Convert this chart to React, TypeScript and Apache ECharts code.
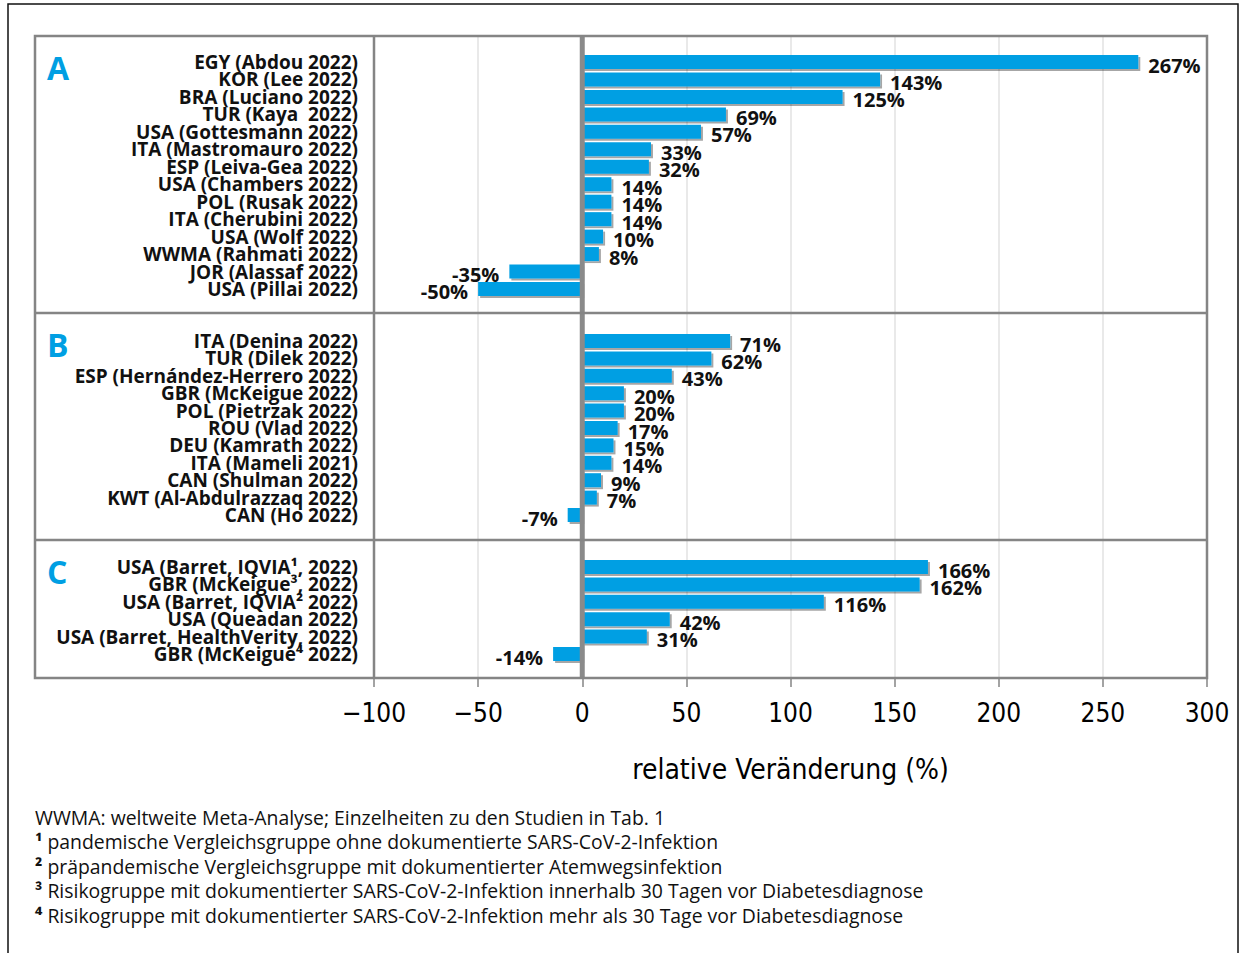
import React, { useEffect, useRef } from "react";
import * as echarts from "echarts";

const catsA = [
  "EGY (Abdou 2022)",
  "KOR (Lee 2022)",
  "BRA (Luciano 2022)",
  "TUR (Kaya  2022)",
  "USA (Gottesmann 2022)",
  "ITA (Mastromauro 2022)",
  "ESP (Leiva-Gea 2022)",
  "USA (Chambers 2022)",
  "POL (Rusak 2022)",
  "ITA (Cherubini 2022)",
  "USA (Wolf 2022)",
  "WWMA (Rahmati 2022)",
  "JOR (Alassaf 2022)",
  "USA (Pillai 2022)",
];
const valsA = [267, 143, 125, 69, 57, 33, 32, 14, 14, 14, 10, 8, -35, -50];

const catsB = [
  "ITA (Denina 2022)",
  "TUR (Dilek 2022)",
  "ESP (Hernández-Herrero 2022)",
  "GBR (McKeigue 2022)",
  "POL (Pietrzak 2022)",
  "ROU (Vlad 2022)",
  "DEU (Kamrath 2022)",
  "ITA (Mameli 2021)",
  "CAN (Shulman 2022)",
  "KWT (Al-Abdulrazzaq 2022)",
  "CAN (Ho 2022)",
];
const valsB = [71, 62, 43, 20, 20, 17, 15, 14, 9, 7, -7];

const catsC = [
  "USA (Barret, IQVIA¹, 2022)",
  "GBR (McKeigue³, 2022)",
  "USA (Barret, IQVIA² 2022)",
  "USA (Queadan 2022)",
  "USA (Barret, HealthVerity, 2022)",
  "GBR (McKeigue⁴ 2022)",
];
const valsC = [166, 162, 116, 42, 31, -14];

const panelLetters = ["A", "B", "C"];
const axisMin = -100;
const axisMax = 300;
const axisStep = 50;
const axisTitle = "relative Veränderung (%)";

const footnotes = [
  ["", "WWMA: weltweite Meta-Analyse; Einzelheiten zu den Studien in Tab. 1"],
  ["¹", " pandemische Vergleichsgruppe ohne dokumentierte SARS-CoV-2-Infektion"],
  ["²", " präpandemische Vergleichsgruppe mit dokumentierter Atemwegsinfektion"],
  ["³", " Risikogruppe mit dokumentierter SARS-CoV-2-Infektion innerhalb 30 Tagen vor Diabetesdiagnose"],
  ["⁴", " Risikogruppe mit dokumentierter SARS-CoV-2-Infektion mehr als 30 Tage vor Diabetesdiagnose"],
];

const FONT = '"Open Sans", "Noto Sans", sans-serif';
const COND = '"DejaVu Sans Condensed", "Liberation Sans Narrow", "Noto Sans", sans-serif';
const BLUE = "#009FE3";
const FRAME = "#858585";

const PLOT_LEFT = 374;
const PLOT_W = 833;
const panels = [
  { top: 53.3, height: 244.4, letterY: 67 },
  { top: 332.3, height: 191.4, letterY: 344 },
  { top: 558.3, height: 104.4, letterY: 571 },
];

export default function App() {
  const ref = useRef<HTMLDivElement>(null);
  useEffect(() => {
    document.body.style.margin = "0";
    if (!ref.current) return;
    const chart = echarts.init(ref.current, null, { renderer: "svg" });
    const cats = [catsA, catsB, catsC];
    const vals = [valsA, valsB, valsC];

    const grids: any[] = [
      { left: PLOT_LEFT, top: 36, width: PLOT_W, height: 642 },
      ...panels.map((p) => ({ left: PLOT_LEFT, top: p.top, width: PLOT_W, height: p.height })),
    ];
    const xAxes: any[] = [
      {
        gridIndex: 0,
        type: "value",
        min: axisMin,
        max: axisMax,
        interval: axisStep,
        splitLine: { show: true, lineStyle: { color: "#e2e2e2", width: 1.5 } },
        axisLine: { show: false },
        axisTick: { show: true, length: 9, lineStyle: { color: FRAME, width: 1.5 } },
        axisLabel: {
          formatter: (v: number) => (v < 0 ? "\u2212" + Math.abs(v) : String(v)),
          fontSize: 26,
          color: "#000",
          margin: 22,
          fontFamily: COND,
        },
        name: axisTitle,
        nameLocation: "middle",
        nameGap: 77,
        nameTextStyle: { fontSize: 28, color: "#000", fontFamily: COND },
      },
      ...panels.map((_, i) => ({
        gridIndex: i + 1,
        type: "value",
        min: axisMin,
        max: axisMax,
        show: false,
      })),
    ];
    const yAxes: any[] = [
      { gridIndex: 0, type: "value", min: 0, max: 1, show: false },
      ...panels.map((_, i) => ({
        gridIndex: i + 1,
        type: "category",
        data: cats[i],
        inverse: true,
        axisLine: { show: false },
        axisTick: { show: false },
        splitLine: { show: false },
        axisLabel: {
          interval: 0,
          margin: 16,
          fontSize: 19,
          lineHeight: 17,
          fontWeight: "bold",
          color: "#111",
          fontFamily: FONT,
        },
      })),
    ];
    const series: any[] = [
      {
        type: "line",
        xAxisIndex: 0,
        yAxisIndex: 0,
        data: [
          [0, 0],
          [0, 1],
        ],
        symbol: "none",
        lineStyle: { color: "#8a8a8a", width: 5 },
        z: 10,
        silent: true,
      },
      ...panels.map((_, i) => ({
        type: "bar",
        xAxisIndex: i + 1,
        yAxisIndex: i + 1,
        barWidth: 14,
        data: vals[i].map((v) => ({
          value: v,
          label: { position: v < 0 ? "left" : "right" },
        })),
        itemStyle: {
          color: BLUE,
          shadowColor: "rgba(0,0,0,0.35)",
          shadowOffsetX: 2,
          shadowOffsetY: 2,
          shadowBlur: 1,
        },
        label: {
          show: true,
          formatter: "{c}%",
          distance: 10,
          offset: [0, 3],
          fontSize: 20,
          lineHeight: 16,
          fontWeight: "bold",
          color: "#111",
          fontFamily: FONT,
        },
        z: 5,
      })),
    ];

    const graphic: any[] = [
      {
        type: "rect",
        shape: { x: 8, y: 4, width: 1230, height: 980 },
        style: { fill: "none", stroke: "#111", lineWidth: 1.5 },
        z: 100,
      },
      {
        type: "rect",
        shape: { x: 35, y: 36, width: 1172, height: 642 },
        style: { fill: "none", stroke: FRAME, lineWidth: 2.5 },
        z: 100,
      },
      {
        type: "line",
        shape: { x1: PLOT_LEFT, y1: 36, x2: PLOT_LEFT, y2: 678 },
        style: { stroke: FRAME, lineWidth: 2.5 },
        z: 100,
      },
      {
        type: "line",
        shape: { x1: 35, y1: 313, x2: 1207, y2: 313 },
        style: { stroke: FRAME, lineWidth: 2.5 },
        z: 100,
      },
      {
        type: "line",
        shape: { x1: 35, y1: 540, x2: 1207, y2: 540 },
        style: { stroke: FRAME, lineWidth: 2.5 },
        z: 100,
      },
      ...panels.map((p, i) => ({
        type: "text",
        x: 47,
        y: p.letterY,
        style: {
          text: panelLetters[i],
          fill: BLUE,
          fontSize: 32,
          fontWeight: "bold",
          fontFamily: FONT,
          verticalAlign: "middle",
          align: "left",
        },
        z: 100,
      })),
      ...footnotes.map((f, i) => ({
        type: "text",
        x: 35,
        y: 817 + i * 24.5,
        style: {
          text: (f[0] ? "{s|" + f[0] + "}" : "") + f[1],
          fill: "#111",
          fontSize: 19.4,
          fontFamily: FONT,
          verticalAlign: "middle",
          align: "left",
          rich: { s: { fontWeight: "bold", fontSize: 19.4, fill: "#111", fontFamily: FONT } },
        },
        z: 100,
      })),
    ];

    chart.setOption({
      animation: false,
      backgroundColor: "#fff",
      grid: grids,
      xAxis: xAxes,
      yAxis: yAxes,
      series,
      graphic,
    });
    return () => chart.dispose();
  }, []);
  return <div ref={ref} style={{ width: 1246, height: 953 }} />;
}
